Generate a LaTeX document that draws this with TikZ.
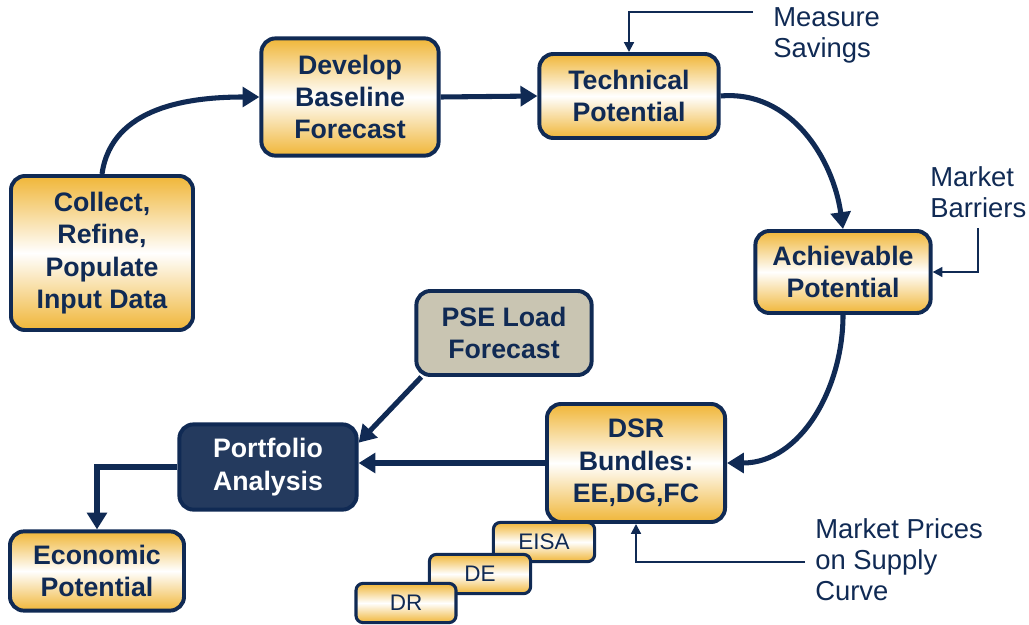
\documentclass[tikz,border=0pt]{standalone}
\usepackage{fontspec}
\setmainfont{Liberation Sans}
\usetikzlibrary{arrows.meta}
\definecolor{navy}{RGB}{16,42,84}
\definecolor{gold}{RGB}{240,182,56}
\definecolor{slate}{RGB}{36,58,94}
\definecolor{khaki}{RGB}{201,197,178}
\begin{document}
\begin{tikzpicture}[x=0.025cm,y=-0.025cm,
    stage node/.style={rectangle,rounded corners=10pt,draw=navy,line width=2.8pt,
      top color=gold,bottom color=gold,middle color=white,text=navy,
      font=\fontsize{19}{23}\selectfont\bfseries,align=center,inner sep=2pt},
    small node/.style={rectangle,rounded corners=5pt,draw=navy,line width=2.2pt,
      top color=gold,bottom color=gold,middle color=white,text=navy,
      font=\fontsize{16}{19}\selectfont,minimum width=2.53cm,minimum height=0.98cm},
    note/.style={text=navy,font=\fontsize{19.5}{22}\selectfont,align=left,anchor=west,inner sep=0pt},
    flow/.style={draw=navy,line width=3.6pt,-{Triangle[length=12pt,width=14pt]}},
    feed/.style={draw=navy,line width=1.4pt,-{Triangle[length=7pt,width=7pt]}}
  ]
   \useasboundingbox (0,0) rectangle (1029,624);
   \node[stage node,minimum width=4.55cm,minimum height=3.85cm] (collect) at (102,253) {Collect,\\Refine,\\Populate\\Input Data};
   \node[stage node,minimum width=4.43cm,minimum height=2.93cm] (base) at (350,97) {Develop\\Baseline\\Forecast};
   \node[stage node,minimum width=4.48cm,minimum height=2.1cm] (tech) at (629,96) {Technical\\Potential};
   \node[stage node,minimum width=4.38cm,minimum height=2.05cm] (ach) at (843,272) {Achievable\\Potential};
   \node[stage node,minimum width=4.38cm,minimum height=2.1cm,top color=khaki,bottom color=khaki,middle color=khaki] (pse) at (504,333) {PSE Load\\Forecast};
   \node[stage node,minimum width=4.43cm,minimum height=2.13cm,top color=slate,bottom color=slate,middle color=slate,text=white] (port) at (268,467) {Portfolio\\Analysis};
   \node[small node] (eisa) at (544,542) {EISA};
   \node[stage node,minimum width=4.45cm,minimum height=2.95cm] (dsr) at (636,463) {DSR\\Bundles:\\EE,DG,FC};
   \node[small node] (de) at (480,574) {DE};
   \node[small node,minimum width=2.5cm] (dr) at (406,603) {DR};
   \node[stage node,minimum width=4.35cm,minimum height=1.98cm] (econ) at (97,571) {Economic\\Potential};
   \node[note] (savings) at (773,35) {Measure\\Savings};
   \node[note] (barriers) at (930,192) {Market\\Barriers};
   \node[note] (prices) at (815,560) {Market Prices\\on Supply\\Curve};
   \coordinate (savingsend) at (753,12);
   \coordinate (barriersend) at (978,228);
   \coordinate (pricesend) at (805,562);
   \path%
    (collect.north) edge [flow,out=82,in=180] (base.west)
    (base.east) edge [flow] (tech.west)
    (tech.east) edge [flow,out=5,in=98] (ach.north)
    (ach.south) edge [flow,out=-90,in=0] (dsr.east)
    (pse.208) edge [flow] (port.15)
    (dsr.west) edge [flow] (dsr.west -| port.east);
   \draw[flow] (port.west) -| (econ.north);
   \draw[feed] (savingsend) -| (tech.north);
   \draw[feed] (barriersend) |- (ach.east);
   \draw[feed] (pricesend) -| (dsr.south);
\end{tikzpicture}
\end{document}
